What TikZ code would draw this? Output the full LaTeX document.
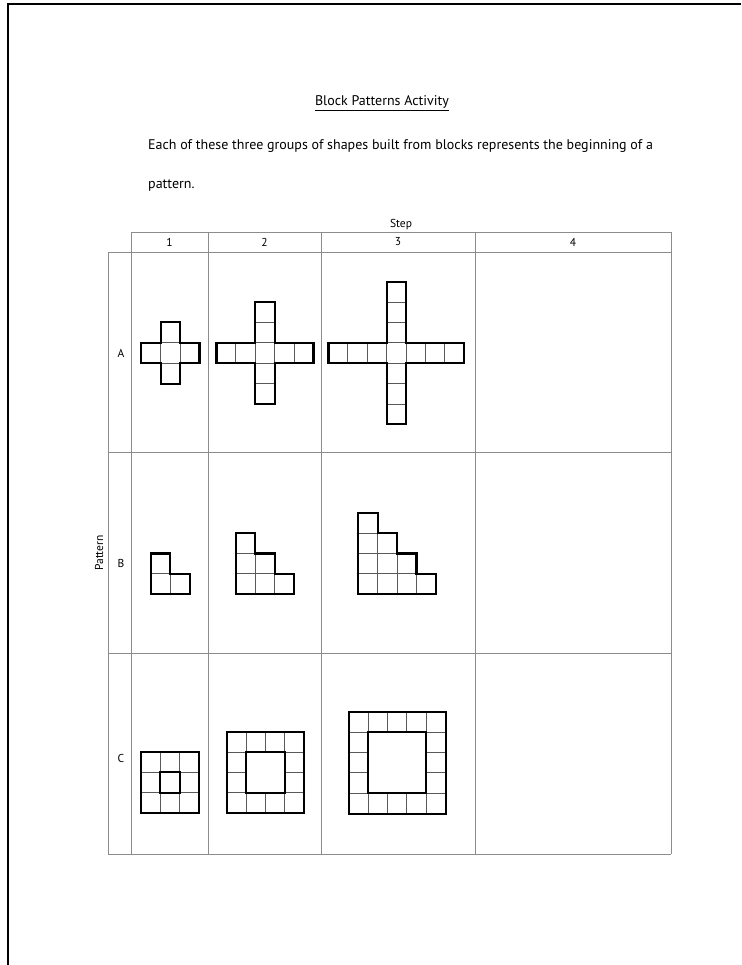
\documentclass[tikz,border=0pt]{standalone}
\usepackage{fontspec}
\setmainfont{PT Sans}
\newcommand\crossshape[1]{%
  \foreach \i in {-#1,...,#1}{\draw[cellline] (\i,0) rectangle ++(1,1); \draw[cellline] (0,\i) rectangle ++(1,1);}
  \draw[outline] (0,-#1) -- (1,-#1) -- (1,0) -- (#1+1,0) -- (#1+1,1) -- (1,1) -- (1,#1+1) -- (0,#1+1) -- (0,1) -- (-#1,1) -- (-#1,0) -- (0,0) -- cycle;}
\newcommand\stairshape[1]{%
  \foreach \c in {1,...,#1}{\pgfmathtruncatemacro\hh{#1-\c+1}\foreach \r in {1,...,\hh}{\draw[cellline] (\c-1,\r-1) rectangle (\c,\r);}}}
\newcommand\ringshape[1]{%
  \pgfmathtruncatemacro\mm{#1-1}%
  \foreach \i in {0,...,\mm}{\draw[cellline] (\i,0) rectangle ++(1,1) (\i,\mm) rectangle ++(1,1) (0,\i) rectangle ++(1,1) (\mm,\i) rectangle ++(1,1);}
  \draw[outline] (0,0) rectangle (#1,#1);
  \draw[outline] (1,1) rectangle (\mm,\mm);}
\begin{document}
\begin{tikzpicture}[x=1pt,y=-1pt,
  tbl/.style={draw=black!45,line width=0.9pt},
  cellline/.style={draw=black!65,line width=1pt},
  outline/.style={draw=black,line width=2.1pt,line join=miter},
  lbl/.style={font=\fontsize{11.5}{13}\selectfont,inner sep=0pt},
  body/.style={font=\fontsize{14}{16}\selectfont,inner sep=0pt,anchor=base west}]
\useasboundingbox (0,0) rectangle (741,965);
\draw[line width=2pt] (7.5,965) -- (7.5,4.5) -- (741,4.5);
% texts
\node[body,anchor=base] (title) at (382,106) {\underline{Block Patterns Activity}};
\node[body] (line1) at (148,150) {Each of these three groups of shapes built from blocks represents the beginning of a};
\node[body] (line2) at (148,189) {pattern.};
% table
\draw[tbl] (131,232) -- (671,232);
\foreach \yy in {252,452,653,854}{\draw[tbl] (108,\yy) -- (671,\yy);}
\draw[tbl] (108,252) -- (108,854);
\foreach \xx in {131,208,321,475,671}{\draw[tbl] (\xx,232) -- (\xx,854);}
\node[lbl] (step) at (401,225) {Step};
\node[lbl] (h1) at (169.5,242) {1};
\node[lbl] (h2) at (264.5,242) {2};
\node[lbl] (h3) at (398,242) {3};
\node[lbl] (h4) at (573,242) {4};
\node[lbl,rotate=90] (pattern) at (99,553) {Pattern};
\node[lbl] (rA) at (121,353) {A};
\node[lbl] (rB) at (121,563) {B};
\node[lbl] (rC) at (121,758) {C};
% A crosses
\begin{scope}[shift={(160.7pt,-342.8pt)},x=19.4pt,y=-20.4pt]\crossshape{1}\end{scope}
\begin{scope}[shift={(255.3pt,-342.8pt)},x=19.4pt,y=-20.4pt]\crossshape{2}\end{scope}
\begin{scope}[shift={(386.7pt,-342.8pt)},x=19.4pt,y=-20.4pt]\crossshape{3}\end{scope}
% B stairs
\begin{scope}[shift={(151pt,-594.3pt)},x=19.4pt,y=20.4pt]
  \stairshape{2}
  \draw[outline] (0,0) -- (2,0) -- (2,1) -- (1,1) -- (1,2) -- (0,2) -- cycle;
\end{scope}
\begin{scope}[shift={(236pt,-594.3pt)},x=19.4pt,y=20.4pt]
  \stairshape{3}
  \draw[outline] (0,0) -- (3,0) -- (3,1) -- (2,1) -- (2,2) -- (1,2) -- (1,3) -- (0,3) -- cycle;
\end{scope}
\begin{scope}[shift={(358.3pt,-594.3pt)},x=19.4pt,y=20.4pt]
  \stairshape{4}
  \draw[outline] (0,0) -- (4,0) -- (4,1) -- (3,1) -- (3,2) -- (2,2) -- (2,3) -- (1,3) -- (1,4) -- (0,4) -- cycle;
\end{scope}
% C rings
\begin{scope}[shift={(141pt,-752pt)},x=19.4pt,y=-20.4pt]\ringshape{3}\end{scope}
\begin{scope}[shift={(226.7pt,-731.7pt)},x=19.4pt,y=-20.4pt]\ringshape{4}\end{scope}
\begin{scope}[shift={(348.7pt,-711.7pt)},x=19.4pt,y=-20.4pt]\ringshape{5}\end{scope}
\end{tikzpicture}
\end{document}
